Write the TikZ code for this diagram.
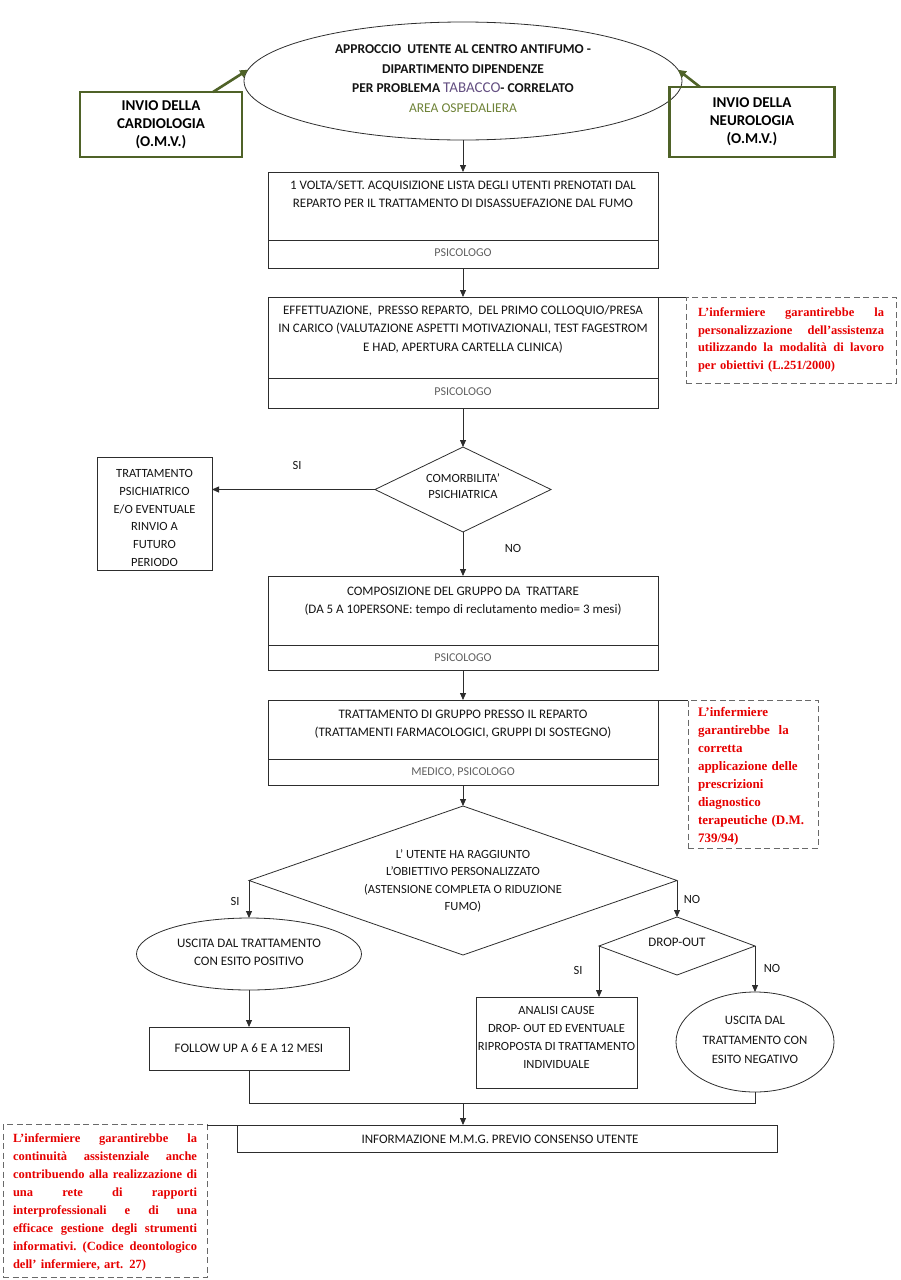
\documentclass[tikz,border=0pt]{standalone}
\usepackage{fontspec}
\setmainfont{Carlito}
\newfontfamily\notefont{Liberation Serif}
\usetikzlibrary{shapes.geometric,arrows.meta}
\definecolor{olivebox}{RGB}{79,98,40}
\definecolor{tabcol}{RGB}{100,80,130}
\definecolor{areacol}{RGB}{110,130,55}
\definecolor{rolecol}{RGB}{95,95,95}
\definecolor{notered}{RGB}{230,0,0}
\definecolor{linecol}{RGB}{45,45,45}
\definecolor{dashcol}{RGB}{105,105,105}
\newcommand{\jl}[2]{\makebox[#1][s]{\spaceskip=0.25em plus 1fil\xspaceskip=0.25em plus 1fil\relax #2}}
\begin{document}
\begin{tikzpicture}[x=1pt,y=-1pt,
  every node/.style={inner sep=0pt,outer sep=0pt},
  fbox/.style={draw=linecol,line width=0.8pt,rectangle},
  plain/.style={draw=linecol,line width=0.8pt},
  txt/.style={font=\fontsize{13}{18.5}\selectfont,align=center,text=black!92},
  role/.style={font=\fontsize{12}{14}\selectfont,text=rolecol},
  arr/.style={-{Triangle[length=7pt,width=6pt]},line width=0.8pt,draw=linecol,fill=linecol},
  garr/.style={-{Triangle[length=8pt,width=8pt]},line width=2.6pt,draw=olivebox,fill=olivebox},
  gbox/.style={draw=olivebox,line width=2.6pt,rectangle,font=\bfseries\fontsize{15}{18}\selectfont,align=center},
  note/.style={draw=dashcol,line width=0.9pt,dash pattern=on 6pt off 3.5pt,rectangle},
  notetxt/.style={font=\notefont\bfseries\fontsize{12.5}{17.7}\selectfont,text=notered,align=left},
  lbl/.style={font=\fontsize{12.5}{14}\selectfont,text=black!92}]
\useasboundingbox (0,0) rectangle (900,1280);

% top ellipse
\node[ellipse,draw=linecol,line width=0.8pt,minimum width=438pt,minimum height=118pt] (start) at (463,81) {};
\node[font=\bfseries\fontsize{13.5}{19.5}\selectfont,align=center,text=black!92] (starttxt) at (463,78.5)
 {APPROCCIO\ \ UTENTE AL CENTRO ANTIFUMO -\\DIPARTIMENTO DIPENDENZE\\PER PROBLEMA {\color{tabcol}\mdseries\fontsize{15}{19.5}\selectfont TABACCO}- CORRELATO\\{\color{areacol}\mdseries AREA OSPEDALIERA}};

% green boxes
\node[gbox,minimum width=162pt,minimum height=65pt] (cardio) at (161,124.5) {INVIO DELLA\\CARDIOLOGIA\\(O.M.V.)};
\node[gbox,minimum width=165pt,minimum height=70pt] (neuro) at (752,122) {INVIO DELLA\\NEUROLOGIA\\(O.M.V.)};
\draw[garr] ([xshift=52pt]cardio.north) -- (start.177);
\draw[garr] ([xshift=-52pt]neuro.north) -- (start.3);

% box 1
\node[fbox,minimum width=390pt,minimum height=96pt] (b1) at (463,220) {};
\node[txt] (b1t) at (463,194) {1 VOLTA/SETT. ACQUISIZIONE LISTA DEGLI UTENTI PRENOTATI DAL\\REPARTO PER IL TRATTAMENTO DI DISASSUEFAZIONE DAL FUMO};
\draw[plain] ([yshift=28pt]b1.south west) -- ([yshift=28pt]b1.south east);
\node[role] (b1r) at (463,253) {PSICOLOGO};
\draw[arr] (start.south) -- (b1.north);

% box 2
\node[fbox,minimum width=390pt,minimum height=111pt] (b2) at (463,352.5) {};
\node[txt] (b2t) at (463,329) {EFFETTUAZIONE,\ \ PRESSO REPARTO,\ \ DEL PRIMO COLLOQUIO/PRESA\\IN CARICO (VALUTAZIONE ASPETTI MOTIVAZIONALI, TEST FAGESTROM\\E HAD, APERTURA CARTELLA CLINICA)};
\draw[plain] ([yshift=30pt]b2.south west) -- ([yshift=30pt]b2.south east);
\node[role] (b2r) at (463,392) {PSICOLOGO};
\draw[arr] (b1.south) -- (b2.north);

% note 1
\node[note,minimum width=210pt,minimum height=86pt] (n1) at (791,340) {};
\node[notetxt,text width=186pt] (n1t) at (791,340) {\jl{186pt}{L’infermiere garantirebbe la}\\\jl{186pt}{personalizzazione dell’assistenza}\\\jl{186pt}{utilizzando la modalità di lavoro}\\per obiettivi (L.251/2000)};
\draw[plain] (b2.north east) -- (b2.north east -| n1.west);

% diamond 1
\node[diamond,draw=linecol,line width=0.8pt,minimum width=176pt,minimum height=85pt] (d1) at (463,489.5) {};
\node[txt,font=\fontsize{12.5}{16}\selectfont] (d1t) at (463,486) {COMORBILITA’\\PSICHIATRICA};
\draw[arr] (b2.south) -- (d1.north);

% psychiatric box
\node[fbox,minimum width=115pt,minimum height=113pt] (psy) at (154.5,513.5) {};
\node[txt,font=\fontsize{12.5}{17.9}\selectfont] (psyt) at (154.5,518) {TRATTAMENTO\\PSICHIATRICO\\E/O EVENTUALE\\RINVIO A\\FUTURO\\PERIODO};
\draw[arr] (d1.west) -- (d1.west -| psy.east);
\node[lbl] (si1) at (297,465) {SI};
\node[lbl] (no1) at (513,548) {NO};

% box 3
\node[fbox,minimum width=390pt,minimum height=94pt] (b3) at (463,623) {};
\node[txt] (b3t) at (463,601.5) {COMPOSIZIONE DEL GRUPPO DA\ \ TRATTARE\\(DA 5 A 10PERSONE: tempo di reclutamento medio= 3 mesi)};
\draw[plain] ([yshift=25pt]b3.south west) -- ([yshift=25pt]b3.south east);
\node[role] (b3r) at (463,657.5) {PSICOLOGO};
\draw[arr] (d1.south) -- (b3.north);

% box 4
\node[fbox,minimum width=390pt,minimum height=85pt] (b4) at (463,742.5) {};
\node[txt] (b4t) at (463,724) {TRATTAMENTO DI GRUPPO PRESSO IL REPARTO\\(TRATTAMENTI FARMACOLOGICI, GRUPPI DI SOSTEGNO)};
\draw[plain] ([yshift=26pt]b4.south west) -- ([yshift=26pt]b4.south east);
\node[role] (b4r) at (463,772) {MEDICO, PSICOLOGO};
\draw[arr] (b3.south) -- (b4.north);

% note 2
\node[note,minimum width=130pt,minimum height=148pt] (n2) at (753,774) {};
\node[notetxt,text width=112pt,font=\notefont\bfseries\fontsize{13}{18}\selectfont] (n2t) at (754,776) {L’infermiere\\garantirebbe\ \ la\\corretta\\applicazione delle\\prescrizioni\\diagnostico\\terapeutiche (D.M.\\739/94)};
\draw[plain] (b4.north east) -- (b4.north east -| n2.west);

% diamond 2
\node[diamond,draw=linecol,line width=0.8pt,minimum width=428pt,minimum height=149pt] (d2) at (463,880.5) {};
\node[txt,font=\fontsize{12.5}{17.3}\selectfont] (d2t) at (463,881) {L’ UTENTE HA RAGGIUNTO\\L’OBIETTIVO PERSONALIZZATO\\(ASTENSIONE COMPLETA O RIDUZIONE\\FUMO)};
\draw[arr] (b4.south) -- (d2.north);

% positive exit
\node[ellipse,draw=linecol,line width=0.8pt,minimum width=225pt,minimum height=72pt] (e2) at (249,954) {};
\node[txt] (e2t) at (249,952.5) {USCITA DAL TRATTAMENTO\\CON ESITO POSITIVO};
\draw[arr] (d2.west) -- (e2.north);
\node[lbl] (si2) at (235,901) {SI};

\node[fbox,minimum width=200pt,minimum height=43pt] (follow) at (249,1048.5) {};
\node[txt] (followt) at (249,1048.5) {FOLLOW UP A 6 E A 12 MESI};
\draw[arr] (e2.south) -- (follow.north);

% drop-out
\node[diamond,draw=linecol,line width=0.8pt,minimum width=156pt,minimum height=58pt] (dout) at (677,946) {};
\node[txt] (doutt) at (677,942) {DROP-OUT};
\draw[arr] (d2.east) -- (dout.north);
\node[lbl] (no2) at (692,899) {NO};

\node[fbox,minimum width=161pt,minimum height=91pt] (ana) at (556.5,1042.5) {};
\node[txt,font=\fontsize{12.5}{18}\selectfont] (anat) at (556.5,1037) {ANALISI CAUSE\\DROP- OUT ED EVENTUALE\\RIPROPOSTA DI TRATTAMENTO\\INDIVIDUALE};
\draw[arr] (dout.west) -- (dout.west |- ana.north);
\node[lbl] (si3) at (578,970) {SI};

\node[ellipse,draw=linecol,line width=0.8pt,minimum width=158pt,minimum height=100pt] (e3) at (755,1042) {};
\node[txt,font=\fontsize{12.8}{19.5}\selectfont] (e3t) at (755,1040) {USCITA DAL\\TRATTAMENTO CON\\ESITO NEGATIVO};
\draw[arr] (dout.east) -- (e3.north);
\node[lbl] (no3) at (772,968) {NO};

% merge
\coordinate (m) at (463,1103);
\draw[plain] (follow.south) |- (m) -| (e3.south);
\node[fbox,minimum width=540pt,minimum height=27pt] (info) at (507,1138.5) {};
\node[txt] (infot) at (500,1139) {INFORMAZIONE M.M.G. PREVIO CONSENSO UTENTE};
\draw[arr] (m) -- (m |- info.north);

% note 3
\node[note,minimum width=204pt,minimum height=153pt] (n3) at (105,1201) {};
\node[notetxt,text width=184pt,font=\notefont\bfseries\fontsize{12.5}{18}\selectfont] (n3t) at (105,1202) {\jl{184pt}{L’infermiere garantirebbe la}\\\jl{184pt}{continuità assistenziale anche}\\\jl{184pt}{contribuendo alla realizzazione di}\\\jl{184pt}{una rete di rapporti}\\\jl{184pt}{interprofessionali e di una}\\\jl{184pt}{efficace gestione degli strumenti}\\\jl{184pt}{informativi. (Codice deontologico}\\dell’ infermiere, art. 27)};
\draw[plain] (info.north west) -- (info.north west -| n3.east);
\end{tikzpicture}
\end{document}
